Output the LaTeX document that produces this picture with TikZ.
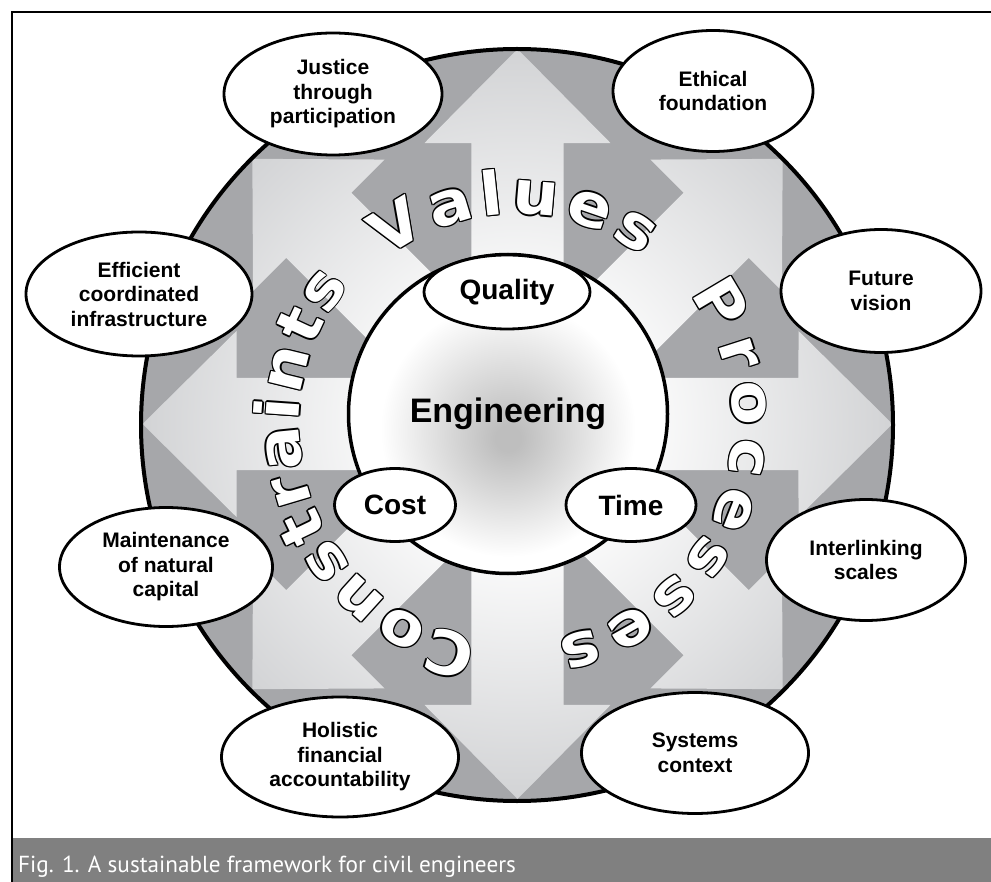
\documentclass[tikz,border=0pt]{standalone}
\usepackage{fontspec}
\setmainfont{Liberation Sans}
\newfontfamily\wordfam{DejaVu Sans Bold}[FakeStretch=1.08]
\newfontfamily\capfont{PT Sans}
\usetikzlibrary{shapes.geometric,decorations.text}
\definecolor{ringgrey}{HTML}{A6A7AA}
\definecolor{arrowgrey}{HTML}{D2D3D5}
\definecolor{engcore}{HTML}{BEBEBE}
\definecolor{capbar}{HTML}{808080}
\pgfdeclareradialshading{arrowshade}{\pgfpoint{0bp}{0bp}}{color(0bp)=(white); color(7bp)=(white); color(25bp)=(arrowgrey); color(50bp)=(arrowgrey)}
\pgfdeclareradialshading{engshade}{\pgfpoint{0bp}{-4bp}}{color(0bp)=(engcore); color(2bp)=(engcore); color(20bp)=(white); color(50bp)=(white)}
\newcommand\ringword[4]{%
  \foreach \dx/\dy in {1.3/0,-1.3/0,0/1.3,0/-1.3,0.9/0.9,-0.9/0.9,0.9/-0.9,-0.9/-0.9}{%
    \path[decorate,decoration={text along path,text={|\wordfam\fontsize{60}{60}\selectfont|#1},text align={fit to path},text color=black}]
      ([shift={(\dx,\dy)}]#2:#4) arc[start angle=#2,end angle=#3,radius=#4];
  }%
  \path[decorate,decoration={text along path,text={|\wordfam\fontsize{60}{60}\selectfont|#1},text align={fit to path},text color=white}]
    (#2:#4) arc[start angle=#2,end angle=#3,radius=#4];
}
\begin{document}
\begin{tikzpicture}[x=1pt,y=1pt,
  oval/.style={ellipse,draw=black,line width=2.8pt,fill=white,inner sep=0pt,align=center,
    font=\bfseries\fontsize{21}{24.5}\selectfont},
  inner oval/.style={ellipse,draw=black,line width=2.8pt,fill=white,inner sep=0pt,align=center,
    font=\bfseries\fontsize{28}{30}\selectfont}]
\useasboundingbox (0,0) rectangle (991,-882);
\fill[white] (0,0) rectangle (991,-882);
% frame
\draw[line width=2.5pt] (12,-882) -- (12,-12) -- (991,-12);
% ring
\coordinate (C) at (517.5,-424);
\fill[ringgrey] (517,-425) circle (376);
% eight arrows
\begin{scope}[shift={(C)}]
  \clip \foreach \a in {0,45,...,315}{
    ({\a+90}:46) -- ({\a+9.3}:284.74) -- ({\a+18.31}:295.99) -- (\a:375)
    -- ({\a-18.31}:295.99) -- ({\a-9.3}:284.74) -- ({\a-90}:46) -- cycle};
  \shade[shading=arrowshade] (0,0) circle (376);
\end{scope}
\draw[line width=4pt] (517,-425) circle (376);
% ring words
\begin{scope}[shift={(516,-425)}]
  \ringword{Values}{128}{53}{211}
  \ringword{Processes}{37}{-79}{217}
  \ringword{Constraints}{260}{140}{217}
\end{scope}
% engineering
\node (eng) [circle,draw=black,line width=3.5pt,shade,shading=engshade,minimum size=319pt,inner sep=0pt,
  font=\bfseries\fontsize{34}{34}\selectfont] at (508,-414) {Engineering};
\node (quality) [inner oval,minimum width=166pt,minimum height=74pt] at (507,-292) {Quality};
\node (cost) [inner oval,minimum width=121pt,minimum height=73pt] at (395,-505) {Cost};
\node (time) [inner oval,minimum width=130pt,minimum height=73pt] at (631,-505) {Time};
% outer ellipses
\node (justice) [oval,minimum width=218pt,minimum height=122pt] at (333,-94) {Justice\\through\\participation};
\node (ethical) [oval,minimum width=200pt,minimum height=121pt] at (713,-91) {Ethical\\foundation};
\node (efficient) [oval,minimum width=226pt,minimum height=124pt] at (139,-294) {Efficient\\coordinated\\infrastructure};
\node (future) [oval,minimum width=200pt,minimum height=123pt] at (881,-291) {Future\\vision};
\node (maint) [oval,minimum width=213pt,minimum height=119pt] at (166,-567) {Maintenance\\of natural\\capital};
\node (inter) [oval,minimum width=199pt,minimum height=121pt] at (866,-560) {Interlinking\\scales};
\node (holistic) [oval,minimum width=237pt,minimum height=120pt] at (340,-757) {Holistic\\financial\\accountability};
\node (systems) [oval,minimum width=227pt,minimum height=121pt] at (695,-753) {Systems\\context};
% caption
\fill[capbar] (13.25,-838) rectangle (991,-882);
\node (cap) [anchor=base west,text=white,inner sep=0pt,font=\capfont\fontsize{23.2}{23.2}\selectfont] at (18,-872)
  {Fig. 1. A sustainable framework for civil engineers};
\end{tikzpicture}
\end{document}
